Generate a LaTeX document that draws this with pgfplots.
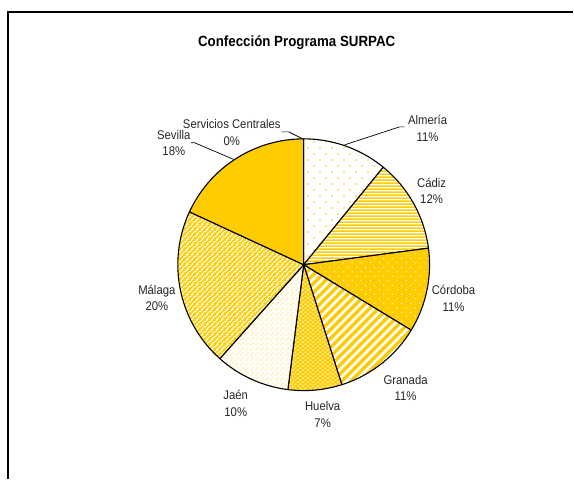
\documentclass[border=0pt]{standalone}
\usepackage{fontspec}
\setmainfont{Liberation Sans}[FakeStretch=0.9]
\usepackage{pgfplots}
\pgfplotsset{compat=1.18}
\usepackage{pgfplotstable}
\usetikzlibrary{patterns}
\definecolor{gold}{HTML}{FFCC00}

% Almeria: sparse gold dots on white
\pgfdeclarepatterninherentlycolored{almeria}{\pgfpointorigin}{\pgfqpoint{12pt}{12pt}}{\pgfqpoint{12pt}{12pt}}{%
  \pgfsetfillcolor{white}\pgfpathrectangle{\pgfpointorigin}{\pgfqpoint{12pt}{12pt}}\pgfusepath{fill}%
  \pgfsetfillcolor{gold}\pgfpathcircle{\pgfqpoint{3pt}{3pt}}{0.8pt}\pgfpathcircle{\pgfqpoint{9pt}{9pt}}{0.8pt}\pgfusepath{fill}}
% Cadiz: horizontal gold lines
\pgfdeclarepatterninherentlycolored{cadiz}{\pgfpointorigin}{\pgfqpoint{3pt}{3pt}}{\pgfqpoint{3pt}{3pt}}{%
  \pgfsetfillcolor{white}\pgfpathrectangle{\pgfpointorigin}{\pgfqpoint{3pt}{3pt}}\pgfusepath{fill}%
  \pgfsetfillcolor{gold}\pgfpathrectangle{\pgfpointorigin}{\pgfqpoint{3pt}{1.7pt}}\pgfusepath{fill}}
% Cordoba: white dots on gold
\pgfdeclarepatterninherentlycolored{cordoba}{\pgfpointorigin}{\pgfqpoint{9pt}{9pt}}{\pgfqpoint{9pt}{9pt}}{%
  \pgfsetfillcolor{gold}\pgfpathrectangle{\pgfpointorigin}{\pgfqpoint{9pt}{9pt}}\pgfusepath{fill}%
  \pgfsetfillcolor{white}\pgfpathcircle{\pgfqpoint{2.25pt}{2.25pt}}{0.75pt}\pgfpathcircle{\pgfqpoint{6.75pt}{6.75pt}}{0.75pt}\pgfusepath{fill}}
% Granada: wide diagonal stripes
\pgfdeclarepatterninherentlycolored{granada}{\pgfpointorigin}{\pgfqpoint{9pt}{9pt}}{\pgfqpoint{9pt}{9pt}}{%
  \pgfsetfillcolor{white}\pgfpathrectangle{\pgfpointorigin}{\pgfqpoint{9pt}{9pt}}\pgfusepath{fill}%
  \pgfsetstrokecolor{gold}\pgfsetlinewidth{3.3pt}%
  \pgfpathmoveto{\pgfqpoint{-1pt}{-1pt}}\pgfpathlineto{\pgfqpoint{10pt}{10pt}}%
  \pgfpathmoveto{\pgfqpoint{-2pt}{7pt}}\pgfpathlineto{\pgfqpoint{2pt}{11pt}}%
  \pgfpathmoveto{\pgfqpoint{7pt}{-2pt}}\pgfpathlineto{\pgfqpoint{11pt}{2pt}}%
  \pgfusepath{stroke}}
% Huelva: white dashes on gold
\pgfdeclarepatterninherentlycolored{huelva}{\pgfpointorigin}{\pgfqpoint{5pt}{4pt}}{\pgfqpoint{5pt}{4pt}}{%
  \pgfsetfillcolor{gold}\pgfpathrectangle{\pgfpointorigin}{\pgfqpoint{5pt}{4pt}}\pgfusepath{fill}%
  \pgfsetfillcolor{white}\pgfpathrectangle{\pgfqpoint{0.3pt}{0.5pt}}{\pgfqpoint{2pt}{1pt}}\pgfpathrectangle{\pgfqpoint{2.8pt}{2.5pt}}{\pgfqpoint{2pt}{1pt}}\pgfusepath{fill}}
% Jaen: dense gold dots on white
\pgfdeclarepatterninherentlycolored{jaen}{\pgfpointorigin}{\pgfqpoint{4.5pt}{4.5pt}}{\pgfqpoint{4.5pt}{4.5pt}}{%
  \pgfsetfillcolor{white}\pgfpathrectangle{\pgfpointorigin}{\pgfqpoint{4.5pt}{4.5pt}}\pgfusepath{fill}%
  \pgfsetfillcolor{gold}\pgfpathcircle{\pgfqpoint{1.1pt}{1.1pt}}{0.7pt}\pgfpathcircle{\pgfqpoint{3.35pt}{3.35pt}}{0.7pt}\pgfusepath{fill}}
% Malaga: thin diagonal stripes
\pgfdeclarepatterninherentlycolored{malaga}{\pgfpointorigin}{\pgfqpoint{4.5pt}{4.5pt}}{\pgfqpoint{4.5pt}{4.5pt}}{%
  \pgfsetfillcolor{white}\pgfpathrectangle{\pgfpointorigin}{\pgfqpoint{4.5pt}{4.5pt}}\pgfusepath{fill}%
  \pgfsetstrokecolor{gold}\pgfsetlinewidth{1.7pt}%
  \pgfpathmoveto{\pgfqpoint{-1pt}{-1pt}}\pgfpathlineto{\pgfqpoint{5.5pt}{5.5pt}}%
  \pgfpathmoveto{\pgfqpoint{-1pt}{3.5pt}}\pgfpathlineto{\pgfqpoint{1pt}{5.5pt}}%
  \pgfpathmoveto{\pgfqpoint{3.5pt}{-1pt}}\pgfpathlineto{\pgfqpoint{5.5pt}{1pt}}%
  \pgfusepath{stroke}}

\pgfplotstableread{
label value
Almeria 10.9
Cadiz 12.0
Cordoba 10.8
Granada 11.4
Huelva 6.9
Jaen 9.6
Malaga 20.3
Sevilla 18.1
Servicios 0
}\piedata

\newcommand\slice[2]{%
  \addplot[#2, draw=black, line width=1.1pt, line join=round, domain=\csname sa#1\endcsname*3.6:\csname ea#1\endcsname*3.6, samples=80, variable=\t]
    ({304+126*sin(\t)},{215+126*cos(\t)}) -- (axis cs:304,215) -- cycle;}

\begin{document}
\begin{tikzpicture}
\xdef\cum{0}%
\foreach \i in {0,...,8}{%
  \pgfplotstablegetelem{\i}{value}\of\piedata
  \pgfmathsetmacro\tmp{\cum+\pgfplotsretval}%
  \expandafter\xdef\csname sa\i\endcsname{\cum}%
  \expandafter\xdef\csname ea\i\endcsname{\tmp}%
  \xdef\cum{\tmp}%
}%
\begin{axis}[hide axis, scale only axis, width=574pt, height=480pt,
  xmin=0, xmax=574, ymin=0, ymax=480, clip=false]
\path (axis cs:0,0) rectangle (axis cs:574,480);
\slice{0}{pattern=almeria}
\slice{1}{pattern=cadiz}
\slice{2}{pattern=cordoba}
\slice{3}{pattern=granada}
\slice{4}{pattern=huelva}
\slice{5}{pattern=jaen}
\slice{6}{pattern=malaga}
\slice{7}{fill=gold}
% frame
\draw[line width=1.2pt] (axis cs:8,0) -- (axis cs:8,468) -- (axis cs:574,468);
% title
\node[font=\fontsize{14.8}{17}\selectfont\bfseries] at (axis cs:297,437) {Confección Programa SURPAC};
% leader lines
\draw[line width=0.7pt] (axis cs:345,335) -- (axis cs:400,353) -- (axis cs:405,353);
\draw[line width=0.7pt] (axis cs:303,341) -- (axis cs:289,348) -- (axis cs:282,348);
\draw[line width=0.7pt] (axis cs:235,320) -- (axis cs:195,337) -- (axis cs:191,337);
% labels
\tikzset{lbl/.style={align=center, text=black!85, font=\fontsize{12.6}{16.5}\selectfont}}
\node[lbl] at (axis cs:428,351.5) {Almería\\11\%};
\node[lbl] at (axis cs:432,289) {Cádiz\\12\%};
\node[lbl] at (axis cs:454,181.5) {Córdoba\\11\%};
\node[lbl] at (axis cs:406,91.5) {Granada\\11\%};
\node[lbl] at (axis cs:323,65) {Huelva\\7\%};
\node[lbl] at (axis cs:236,76) {Jaén\\10\%};
\node[lbl] at (axis cs:157,182) {Málaga\\20\%};
\node[lbl] at (axis cs:174,337) {Sevilla\\18\%};
\node[lbl] at (axis cs:232,347.5) {Servicios Centrales\\0\%};
\end{axis}
\end{tikzpicture}
\end{document}
